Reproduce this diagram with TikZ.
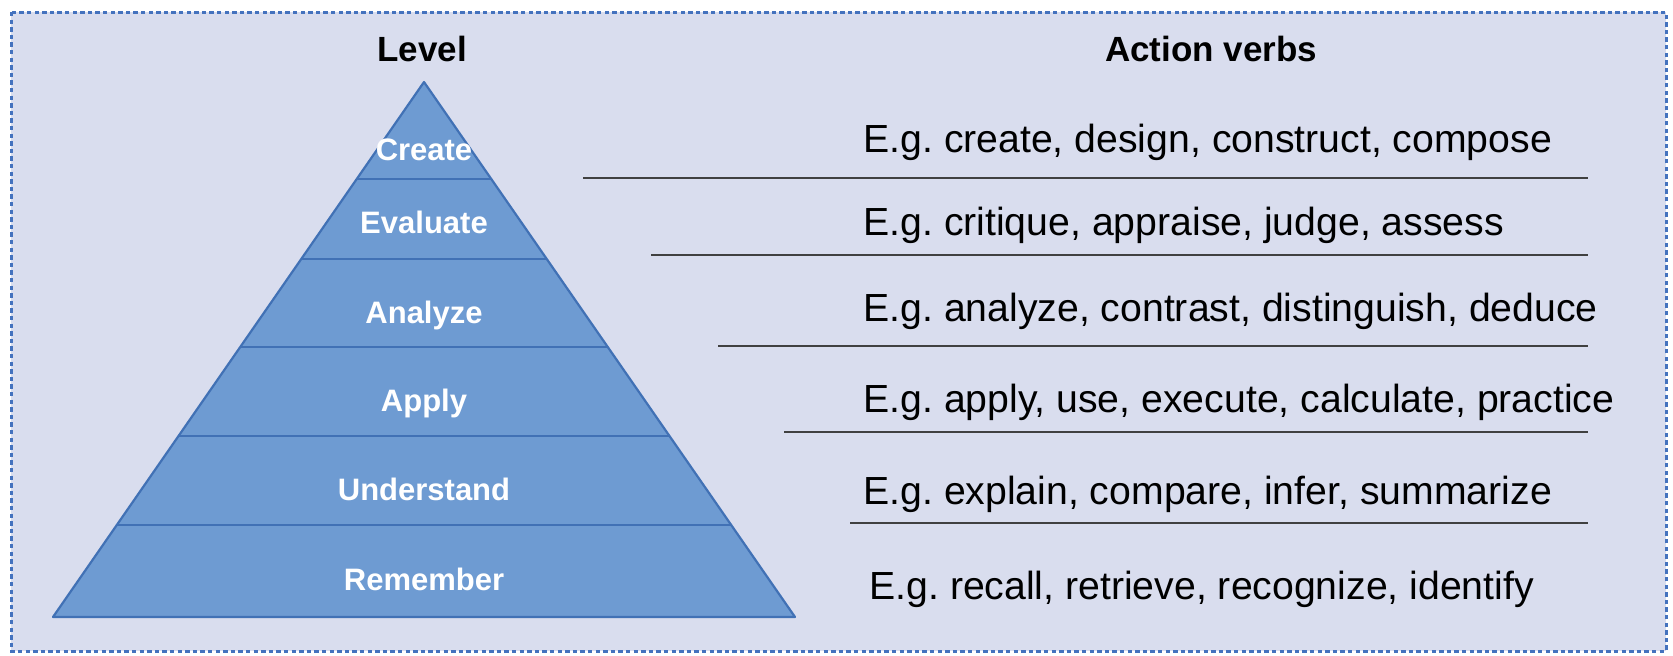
\documentclass[tikz,border=0pt]{standalone}
\usepackage{fontspec}
\setmainfont{Liberation Sans}
\usetikzlibrary{calc}
\frenchspacing

\definecolor{panelbg}{RGB}{217,221,238}
\definecolor{panelrim}{RGB}{68,114,190}
\definecolor{pyrfill}{RGB}{110,155,210}
\definecolor{pyredge}{RGB}{65,113,181}

\begin{document}
\begin{tikzpicture}[x=0.5pt,y=-0.5pt,inner sep=0pt,
            levelname/.style={font=\fontsize{15.5}{18}\selectfont\bfseries,text=white,anchor=base},
            header/.style={font=\fontsize{17.5}{21}\selectfont\bfseries,anchor=base},
            verbs/.style={font=\fontsize{19.6}{23}\selectfont,anchor=base west},
            rule/.style={draw=black!75,line width=0.9pt}]
                \useasboundingbox (0,0) rectangle (1673,655);
                % panel
                \fill[panelbg] (11,12) rectangle (1666,651);
                \draw[panelrim,line width=1.5pt,dash pattern=on 2.2pt off 1.6pt] (11,12) rectangle (1666,651);
                % pyramid
                \coordinate (apex) at (424,82);
                \coordinate (bl) at (53,617);
                \coordinate (br) at (795,617);
                \filldraw[fill=pyrfill,draw=pyredge,line width=1.1pt,line join=round] (apex) -- (br) -- (bl) -- cycle;
                \foreach \r in {0.1813,0.3308,0.4953,0.6617,0.8280}
                    \draw[pyredge,line width=1.1pt] ($(apex)!\r!(bl)$) -- ($(apex)!\r!(br)$);
                \node[header] (hlevel) at (422,61) {Level};
                \node[header] (hverbs) at (1211,61) {Action verbs};
                \node[levelname] (create) at (424,160) {Create};
                \node[levelname] (evaluate) at (424,233) {Evaluate};
                \node[levelname] (analyze) at (424,323) {Analyze};
                \node[levelname] (apply) at (424,411) {Apply};
                \node[levelname] (understand) at (424,500) {Understand};
                \node[levelname] (remember) at (424,590) {Remember};
                % action verbs
                \node[verbs] (vcreate) at (863,152) {E.g. create, design, construct, compose};
                \node[verbs] (vevaluate) at (863,235) {E.g. critique, appraise, judge, assess};
                \node[verbs] (vanalyze) at (863,321) {E.g. analyze, contrast, distinguish, deduce};
                \node[verbs] (vapply) at (863,412) {E.g. apply, use, execute, calculate, practice};
                \node[verbs] (vunderstand) at (863,504) {E.g. explain, compare, infer, summarize};
                \node[verbs] (vremember) at (869,599) {E.g. recall, retrieve, recognize, identify};
                \draw[rule] (583,178) -- (1588,178);
                \draw[rule] (651,255) -- (1588,255);
                \draw[rule] (718,346) -- (1588,346);
                \draw[rule] (784,432) -- (1588,432);
                \draw[rule] (850,523) -- (1588,523);
        \end{tikzpicture}
\end{document}
